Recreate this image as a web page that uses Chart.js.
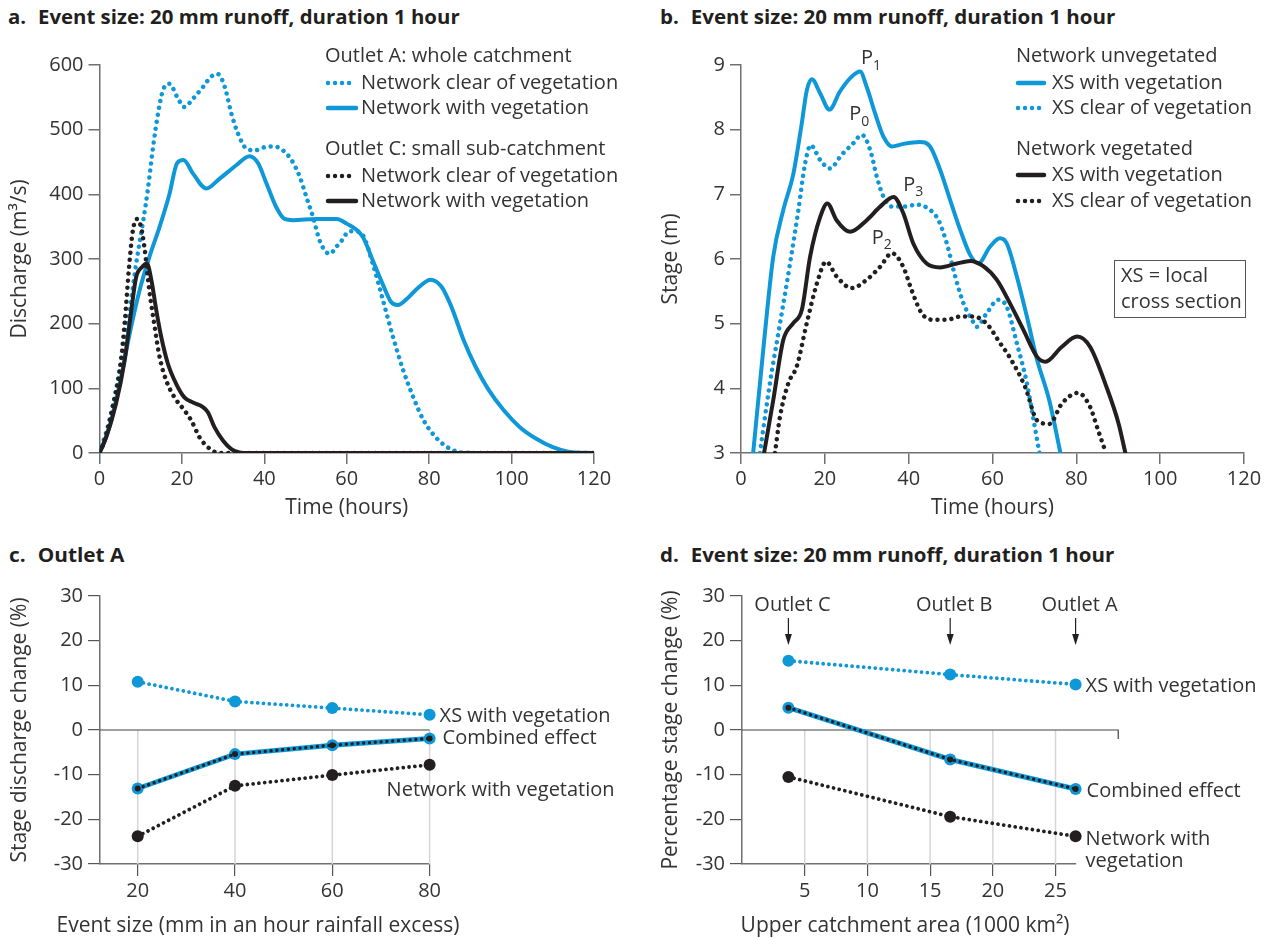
<!DOCTYPE html>
<html>
<head>
<meta charset="utf-8">
<script src="https://cdn.jsdelivr.net/npm/chart.js@4.4.1/dist/chart.umd.min.js"></script>
<style>
  body { margin: 0; background: #fff; width: 1266px; height: 938px; overflow: hidden; position: relative; font-family: "Open Sans", sans-serif; }
  canvas { position: absolute; }
  .head { position: absolute; font-weight: 700; font-size: 19px; line-height: 1; color: #231f20; white-space: nowrap; transform-origin: 0 50%; }
  .head span { margin-left: 11px; }
</style>
</head>
<body>
<div class="head" id="hA" style="left:8px;top:8px">a.<span>Event size: 20 mm runoff, duration 1 hour</span></div>
<div class="head" id="hB" style="left:660px;top:8px">b.<span>Event size: 20 mm runoff, duration 1 hour</span></div>
<div class="head" id="hC" style="left:9px;top:546px">c.<span>Outlet A</span></div>
<div class="head" id="hD" style="left:660px;top:546px">d.<span>Event size: 20 mm runoff, duration 1 hour</span></div>

<canvas id="chartA" style="left:0;top:0" width="633" height="530"></canvas>
<canvas id="chartB" style="left:633px;top:0" width="633" height="530"></canvas>
<canvas id="chartC" style="left:0;top:530px" width="633" height="408"></canvas>
<canvas id="chartD" style="left:633px;top:530px" width="633" height="408"></canvas>

<script>
// ---- a. discharge hydrographs (m3/s) ----
const outletAClearHours = [0, 2.4, 4.9, 7.3, 8.9, 10.5, 11.7, 13, 14.2, 15.4, 17, 18.8, 20.6, 22.7, 25.1, 27.1, 28.7, 30.4, 32, 33.6, 35.6, 37.7, 40.1, 42.5, 44.5, 46.6, 48.6, 50.2, 51.8, 53.4, 54.7, 55.9, 57.5, 59.1, 60.3, 62, 63.9, 66.3, 68.8, 71.2, 73.7, 76.1, 78.6, 81.5, 84.4, 86.9, 90];
const outletAClearFlow  = [0, 50, 128, 220, 293, 355, 406, 473, 525, 561, 571, 551, 535, 548, 566, 582, 586, 566, 525, 494, 471, 468, 473, 474, 468, 453, 427, 396, 365, 329, 313, 308, 319, 331, 342, 343, 337, 293, 236, 180, 128, 87, 51, 25, 9, 2, 0];
const outletAVegHours = [0, 2.4, 4.9, 7.3, 9.7, 12.1, 14.6, 17, 18.8, 20.4, 22.7, 25.9, 29.1, 33.2, 36.4, 38.5, 40.5, 42.9, 44.9, 47, 52.6, 57.5, 59.9, 63.9, 66.3, 68.8, 70.7, 72.4, 74.7, 77.6, 80.3, 83, 85.4, 88.4, 91.3, 94.2, 98.1, 102, 106, 110, 113.8, 120];
const outletAVegFlow  = [0, 40, 107, 184, 251, 303, 350, 401, 448, 453, 432, 409, 424, 445, 459, 448, 417, 380, 362, 360, 362, 362, 355, 334, 298, 260, 234, 229, 239, 257, 268, 257, 226, 174, 133, 100, 66, 40, 22, 9, 2, 0];
const outletCClearHours = [0, 1.2, 3.2, 4.9, 6.1, 7.1, 8.1, 9.1, 10.1, 10.9, 12.1, 13.4, 14.6, 16.2, 18.2, 20.6, 22.3, 24.3, 26.3, 28.3, 30, 120];
const outletCClearFlow  = [0, 19, 71, 128, 200, 282, 344, 362, 349, 318, 251, 195, 148, 112, 86, 66, 50, 24, 9, 1, 0, 0];
const outletCVegHours = [0, 1.6, 4, 6.1, 7.7, 8.9, 10.4, 11.5, 12.6, 13.8, 15, 16.6, 18.6, 20.6, 22.7, 25.1, 26.3, 27.9, 30, 32, 34, 35, 120];
const outletCVegFlow  = [0, 24, 76, 143, 220, 272, 288, 293, 267, 220, 179, 138, 107, 86, 78, 71, 63, 40, 19, 6, 1, 0, 0];

// ---- b. stage hydrographs (m) ----
const unvegXsVegHours = [2.9, 5.3, 7.7, 10.1, 12.5, 14.5, 15.7, 16.9, 18.9, 21.1, 23.6, 26.4, 28.4, 30, 32, 34, 36, 38.7, 42.7, 45.1, 47.5, 49.9, 52.3, 54.7, 56.6, 59.4, 61.8, 63.4, 65.8, 68.2, 70.6, 73.6, 76.2];
const unvegXsVegStage = [3, 4.59, 6.04, 6.76, 7.32, 8.1, 8.61, 8.78, 8.56, 8.31, 8.59, 8.82, 8.9, 8.66, 8.25, 7.89, 7.74, 7.78, 7.81, 7.74, 7.38, 6.91, 6.45, 6.06, 5.93, 6.19, 6.32, 6.24, 5.73, 5.11, 4.45, 3.8, 3];
const unvegXsClearHours = [4.5, 6.9, 9.3, 11.7, 13.7, 15.3, 16.6, 18.9, 21.2, 24, 26.8, 28.8, 30.8, 32.4, 34, 36, 38.7, 41.9, 45.1, 47.1, 49.1, 51.1, 53.1, 55.1, 56.2, 58.6, 61.4, 63.4, 65.8, 68.2, 69.8, 71.2];
const unvegXsClearStage = [3, 4.08, 5.0, 5.93, 6.76, 7.48, 7.76, 7.53, 7.4, 7.61, 7.79, 7.92, 7.69, 7.27, 6.96, 6.81, 6.81, 6.84, 6.76, 6.6, 6.24, 5.73, 5.31, 5.06, 4.95, 5.16, 5.37, 5.26, 4.7, 4.08, 3.51, 3.0];
const vegXsVegHours = [5.5, 7.7, 10.1, 12.5, 14.5, 16.5, 18.9, 20.6, 22.8, 26, 30, 33.2, 36.4, 38.7, 41.1, 44.3, 47.5, 51.5, 54.7, 57.8, 61, 64.2, 67.4, 70.6, 72.6, 76.5, 80.2, 83.3, 87.2, 90.1, 91.7];
const vegXsVegStage = [3, 3.82, 4.75, 5.01, 5.21, 6.04, 6.65, 6.86, 6.6, 6.42, 6.6, 6.81, 6.96, 6.71, 6.24, 5.93, 5.87, 5.93, 5.97, 5.89, 5.68, 5.31, 4.9, 4.49, 4.41, 4.64, 4.8, 4.64, 4.02, 3.45, 3];
const vegXsClearHours = [8.1, 9.3, 11.3, 13.3, 15.7, 18.1, 20.3, 22.8, 26.4, 30, 33.2, 36, 38.7, 40.7, 43.1, 45.9, 49.1, 52.3, 55.4, 58.6, 61.8, 64.2, 67.8, 70.7, 73.6, 76.5, 80.4, 83.3, 85.2, 86.7];
const vegXsClearStage = [3, 3.56, 4.08, 4.34, 5.01, 5.62, 5.96, 5.73, 5.55, 5.68, 5.88, 6.09, 5.88, 5.52, 5.16, 5.06, 5.06, 5.11, 5.11, 5.0, 4.7, 4.47, 4.02, 3.5, 3.45, 3.76, 3.93, 3.71, 3.35, 3.07];
// peak labels P0..P3 (hours, stage)
const peakNames = ['1', '0', '3', '2'];
const peakHours = [28.6, 25.8, 38.7, 31.2];
const peakStage = [9.1, 8.23, 7.14, 6.32];

// ---- c. Outlet A, change (%) vs event size ----
const eventSizes = [20, 40, 60, 80];
const cXsWithVeg = [10.8, 6.4, 4.9, 3.4];
const cCombined = [-13.1, -5.4, -3.4, -1.9];
const cNetworkVeg = [-23.8, -12.5, -10.1, -7.8];

// ---- d. change (%) vs upper catchment area ----
const catchmentAreas = [3.7, 16.6, 26.6];
const outletNames = ['Outlet C', 'Outlet B', 'Outlet A'];
const dXsWithVeg = [15.5, 12.4, 10.2];
const dCombined = [5.0, -6.6, -13.2];
const dNetworkVeg = [-10.5, -19.4, -23.8];
const areaTicks = [5, 10, 15, 20, 25];

const BLUE = '#0f98d8';
const BLACK = '#231f20';
const AXIS = '#707070';
const TEXT = '#333333';
const FONT = '"Open Sans", sans-serif';
Chart.defaults.font.family = FONT;
Chart.defaults.color = TEXT;

function pts(xs, ys) { return xs.map((x, i) => ({ x: x, y: ys[i] })); }

function curve(xs, ys, color, dotted, w) {
  return {
    data: pts(xs, ys),
    borderColor: color, backgroundColor: color,
    borderWidth: w, borderDash: dotted ? [0.01, 7] : [],
    borderCapStyle: 'round', borderJoinStyle: 'round',
    pointRadius: 0, cubicInterpolationMode: 'monotone', fill: false
  };
}

function marks(xs, ys, color, dotted, w, r) {
  return {
    data: pts(xs, ys),
    borderColor: color, backgroundColor: color,
    borderWidth: w, borderDash: dotted ? [0.01, 5.8] : [],
    borderCapStyle: 'round', tension: 0,
    pointRadius: r, pointBorderWidth: 0, pointBackgroundColor: color, fill: false
  };
}

function label(ctx, s, x, y, size, align) {
  ctx.save();
  ctx.font = (size || 20) + 'px ' + FONT;
  ctx.fillStyle = TEXT;
  ctx.textAlign = align || 'left';
  ctx.textBaseline = 'middle';
  ctx.fillText(s, x, y);
  ctx.restore();
}

function sample(ctx, x1, x2, y, color, dotted) {
  ctx.save();
  ctx.strokeStyle = color;
  ctx.lineWidth = 4.5;
  ctx.lineCap = 'round';
  ctx.setLineDash(dotted ? [0.01, 7] : []);
  ctx.beginPath(); ctx.moveTo(x1, y); ctx.lineTo(x2, y); ctx.stroke();
  ctx.restore();
}

function axisTitle(text) {
  return { display: true, text: text, color: TEXT, padding: 0, font: { size: 21, lineHeight: 1 } };
}

function timeAxis(h) {
  return {
    type: 'linear', min: 0, max: 120,
    ticks: { stepSize: 20, autoSkip: false, maxRotation: 0, padding: 3, font: { size: 20 }, color: TEXT },
    grid: { drawOnChartArea: false, tickLength: 11, color: AXIS, lineWidth: 1.5 },
    border: { color: AXIS, width: 1.5 },
    title: axisTitle('Time (hours)'),
    afterFit: s => { s.height = h; }
  };
}

function valueAxis(min, max, step, titleText, w) {
  return {
    min: min, max: max,
    ticks: { stepSize: step, padding: 5, font: { size: 20 }, color: TEXT },
    grid: { drawOnChartArea: false, tickLength: 11, color: AXIS, lineWidth: 1.5 },
    border: { color: AXIS, width: 1.5 },
    title: axisTitle(titleText),
    afterFit: s => { s.width = w; }
  };
}

const base = {
  responsive: false, animation: false,
  plugins: { legend: { display: false }, tooltip: { enabled: false } }
};

// ---------- a ----------
new Chart(document.getElementById('chartA'), {
  type: 'line',
  data: { datasets: [
    curve(outletCVegHours, outletCVegFlow, BLACK, false, 4),
    curve(outletCClearHours, outletCClearFlow, BLACK, true, 4.5),
    curve(outletAVegHours, outletAVegFlow, BLUE, false, 4),
    curve(outletAClearHours, outletAClearFlow, BLUE, true, 4.5)
  ] },
  options: Object.assign({}, base, {
    layout: { padding: { left: 9.5, top: 65, right: 39, bottom: 11.5 } },
    scales: {
      x: timeAxis(65.5),
      y: valueAxis(0, 600, 100, 'Discharge (m\u00b3/s)', 90)
    }
  }),
  plugins: [{
    id: 'legendA',
    afterDraw(chart) {
      const ctx = chart.ctx;
      label(ctx, 'Outlet A: whole catchment', 325, 56);
      sample(ctx, 328, 356, 83, BLUE, true);
      label(ctx, 'Network clear of vegetation', 361, 83);
      sample(ctx, 328, 356, 108, BLUE, false);
      label(ctx, 'Network with vegetation', 361, 108);
      label(ctx, 'Outlet C: small sub-catchment', 325, 149);
      sample(ctx, 328, 356, 176, BLACK, true);
      label(ctx, 'Network clear of vegetation', 361, 176);
      sample(ctx, 328, 356, 201, BLACK, false);
      label(ctx, 'Network with vegetation', 361, 201);
    }
  }]
});

// ---------- b ----------
new Chart(document.getElementById('chartB'), {
  type: 'line',
  data: { datasets: [
    curve(vegXsVegHours, vegXsVegStage, BLACK, false, 4),
    curve(vegXsClearHours, vegXsClearStage, BLACK, true, 4.5),
    curve(unvegXsVegHours, unvegXsVegStage, BLUE, false, 4),
    curve(unvegXsClearHours, unvegXsClearStage, BLUE, true, 4.5)
  ] },
  options: Object.assign({}, base, {
    layout: { padding: { left: 27.5, top: 65, right: 22, bottom: 11.5 } },
    scales: {
      x: timeAxis(65.5),
      y: valueAxis(3, 9, 1, 'Stage (m)', 80.5)
    }
  }),
  plugins: [{
    id: 'legendB',
    afterDraw(chart) {
      const ctx = chart.ctx;
      const sx = chart.scales.x, sy = chart.scales.y;
      peakNames.forEach((n, i) => {
        const x = sx.getPixelForValue(peakHours[i]);
        const y = sy.getPixelForValue(peakStage[i]);
        label(ctx, 'P', x, y, 20);
        label(ctx, n, x + 12, y + 7, 14);
      });
      label(ctx, 'Network unvegetated', 383, 56);
      sample(ctx, 385, 411, 83, BLUE, false);
      label(ctx, 'XS with vegetation', 419, 83);
      sample(ctx, 385, 411, 108, BLUE, true);
      label(ctx, 'XS clear of vegetation', 419, 108);
      label(ctx, 'Network vegetated', 383, 149);
      sample(ctx, 385, 411, 175, BLACK, false);
      label(ctx, 'XS with vegetation', 419, 175);
      sample(ctx, 385, 411, 201, BLACK, true);
      label(ctx, 'XS clear of vegetation', 419, 201);
      ctx.save();
      ctx.strokeStyle = '#555';
      ctx.lineWidth = 1;
      ctx.strokeRect(481.5, 260.5, 131, 57);
      ctx.restore();
      label(ctx, 'XS = local', 488, 276);
      label(ctx, 'cross section', 488, 302);
    }
  }]
});

// shared pieces for c and d
function changeY(w, titleText) {
  return {
    min: -30, max: 30,
    ticks: { stepSize: 10, padding: 5, font: { size: 20 }, color: TEXT },
    grid: { drawOnChartArea: false, tickLength: 12, color: '#555', lineWidth: 1.2 },
    border: { color: AXIS, width: 1.5 },
    title: axisTitle(titleText),
    afterFit: s => { s.width = w; }
  };
}

function changeX(min, max, tickVals) {
  return {
    type: 'linear', min: min, max: max,
    afterBuildTicks: s => { s.ticks = tickVals.map(v => ({ value: v })); },
    ticks: { autoSkip: false, maxRotation: 0, padding: 3, font: { size: 20 }, color: TEXT },
    grid: { drawOnChartArea: false, tickLength: 12, color: '#555', lineWidth: 1.2 },
    border: { color: AXIS, width: 1.5 },
    title: { display: false },
    afterFit: s => { s.height = 72.5; }
  };
}

// light guide lines below zero, the zero line, and the x-axis title
function guides(tickVals, zeroEnd, endTick, titleText, titleX) {
  return {
    id: 'guides',
    beforeDatasetsDraw(chart) {
      const ctx = chart.ctx, a = chart.chartArea;
      const sx = chart.scales.x, sy = chart.scales.y;
      const y0 = sy.getPixelForValue(0);
      ctx.save();
      ctx.strokeStyle = '#d6d6d6';
      ctx.lineWidth = 1.5;
      tickVals.forEach(v => {
        const x = sx.getPixelForValue(v);
        ctx.beginPath(); ctx.moveTo(x, y0); ctx.lineTo(x, a.bottom); ctx.stroke();
      });
      ctx.strokeStyle = '#444';
      ctx.lineWidth = 1.2;
      const xe = sx.getPixelForValue(zeroEnd);
      ctx.beginPath(); ctx.moveTo(a.left, y0); ctx.lineTo(xe, y0);
      if (endTick) ctx.lineTo(xe, y0 + 9);
      ctx.stroke();
      ctx.restore();
      label(ctx, titleText, titleX, 396, 21, 'center');
    }
  };
}

// ---------- c ----------
new Chart(document.getElementById('chartC'), {
  type: 'line',
  data: { datasets: [
    marks(eventSizes, cCombined, BLACK, true, 3.4, 3),
    marks(eventSizes, cCombined, BLUE, false, 5, 6),
    marks(eventSizes, cNetworkVeg, BLACK, true, 3.8, 6),
    marks(eventSizes, cXsWithVeg, BLUE, true, 3.8, 6)
  ] },
  options: Object.assign({}, base, {
    clip: false,
    layout: { padding: { left: 9.5, top: 66, right: 203.4, bottom: 1.5 } },
    scales: {
      x: changeX(12.25, 80, eventSizes),
      y: changeY(90.5, 'Stage discharge change (%)')
    }
  }),
  plugins: [guides(eventSizes, 80, false, 'Event size (mm in an hour rainfall excess)', 258), {
    id: 'labelsC',
    afterDraw(chart) {
      const ctx = chart.ctx;
      const sx = chart.scales.x, sy = chart.scales.y;
      const xe = sx.getPixelForValue(80);
      label(ctx, 'XS with vegetation', xe + 10, sy.getPixelForValue(cXsWithVeg[3]) + 1);
      label(ctx, 'Combined effect', xe + 13, sy.getPixelForValue(cCombined[3]));
      label(ctx, 'Network with vegetation', xe - 43, sy.getPixelForValue(cNetworkVeg[3]) + 25);
    }
  }]
});

// ---------- d ----------
new Chart(document.getElementById('chartD'), {
  type: 'line',
  data: { datasets: [
    marks(catchmentAreas, dCombined, BLACK, true, 3.4, 3),
    marks(catchmentAreas, dCombined, BLUE, false, 5, 6),
    marks(catchmentAreas, dNetworkVeg, BLACK, true, 3.8, 6),
    marks(catchmentAreas, dXsWithVeg, BLUE, true, 3.8, 6)
  ] },
  options: Object.assign({}, base, {
    clip: false,
    layout: { padding: { left: 27.5, top: 66, right: 190.4, bottom: 1.5 } },
    scales: {
      x: changeX(0, 26.6, areaTicks),
      y: changeY(81.5, 'Percentage stage change (%)')
    }
  }),
  plugins: [guides(areaTicks, 30, true, 'Upper catchment area (1000 km\u00b2)', 272), {
    id: 'labelsD',
    afterDraw(chart) {
      const ctx = chart.ctx;
      const sx = chart.scales.x, sy = chart.scales.y;
      const xe = sx.getPixelForValue(catchmentAreas[2]);
      label(ctx, 'XS with vegetation', xe + 10, sy.getPixelForValue(dXsWithVeg[2]) + 2);
      label(ctx, 'Combined effect', xe + 11, sy.getPixelForValue(dCombined[2]) + 2);
      label(ctx, 'Network with', xe + 10, sy.getPixelForValue(dNetworkVeg[2]) + 3);
      label(ctx, 'vegetation', xe + 10, sy.getPixelForValue(dNetworkVeg[2]) + 25);
      ctx.save();
      ctx.strokeStyle = BLACK; ctx.fillStyle = BLACK; ctx.lineWidth = 1.2;
      outletNames.forEach((n, i) => {
        const x = sx.getPixelForValue(catchmentAreas[i]);
        label(ctx, n, x + 4, 75, 20, 'center');
        ctx.beginPath(); ctx.moveTo(x, 88); ctx.lineTo(x, 110); ctx.stroke();
        ctx.beginPath(); ctx.moveTo(x - 3.5, 104); ctx.lineTo(x, 115); ctx.lineTo(x + 3.5, 104); ctx.closePath(); ctx.fill();
      });
      ctx.restore();
    }
  }]
});

// squeeze the bold headings to the condensed width of the original type
[['hA', 452], ['hB', 455], ['hC', 115], ['hD', 454]].forEach(([id, w]) => {
  const el = document.getElementById(id);
  el.style.transform = 'scaleX(' + (w / el.offsetWidth) + ')';
});
</script>
</body>
</html>
